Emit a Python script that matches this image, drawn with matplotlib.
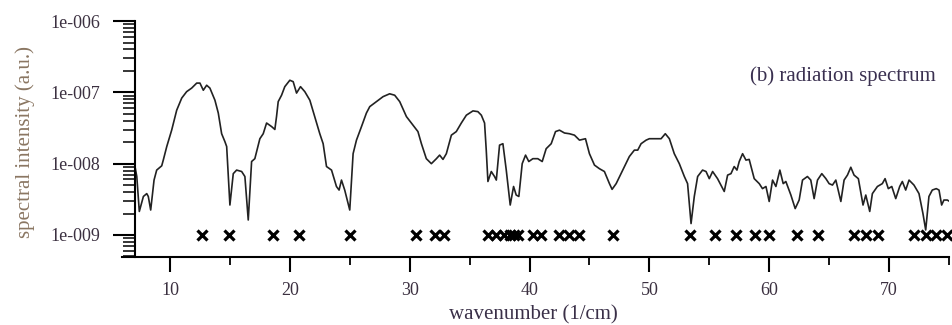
import matplotlib.pyplot as plt
import numpy as np
from matplotlib.ticker import LogLocator, NullFormatter, MultipleLocator

# spectrum: wavenumber (1/cm) and log10 of the intensity
wavenumber = [
    7.08, 7.23, 7.44, 7.78, 8.06, 8.19, 8.39, 8.67, 8.89, 9.31, 9.44, 9.73,
    10.14, 10.56, 10.98, 11.39, 11.81, 12.23, 12.50, 12.78, 13.06, 13.33, 13.75,
    14.03, 14.31, 14.58, 14.73, 15.00, 15.28, 15.56, 15.98, 16.25, 16.53, 16.81,
    17.08, 17.50, 17.78, 18.06, 18.48, 18.75, 18.89, 19.03, 19.31, 19.58, 20.00,
    20.28, 20.56, 20.89, 21.25, 21.67, 22.08, 22.50, 22.78, 23.06, 23.48, 23.89,
    24.11, 24.31, 24.58, 25.00, 25.28, 25.56, 25.98, 26.39, 26.67, 27.23, 27.78,
    28.33, 28.75, 29.17, 29.73, 30.28, 30.69, 30.98, 31.39, 31.81, 32.23, 32.50,
    32.78, 33.06, 33.48, 33.89, 34.31, 34.73, 35.28, 35.69, 35.98, 36.25, 36.39,
    36.53, 36.81, 37.08, 37.23, 37.50, 37.78, 38.06, 38.39, 38.67, 38.89, 39.11,
    39.39, 39.67, 39.94, 40.28, 40.69, 41.06, 41.39, 41.81, 42.17, 42.50, 42.92,
    43.33, 43.75, 44.17, 44.67, 45.00, 45.42, 45.83, 46.25, 46.67, 46.89, 47.23,
    47.78, 48.33, 48.75, 49.03, 49.31, 49.73, 50.00, 50.56, 50.98, 51.33, 51.67,
    52.08, 52.50, 52.92, 53.19, 53.48, 53.75, 54.03, 54.44, 54.73, 55.00, 55.28,
    55.69, 56.25, 56.53, 56.81, 57.08, 57.31, 57.50, 57.78, 58.06, 58.33, 58.75,
    59.17, 59.44, 59.73, 60.00, 60.28, 60.56, 60.89, 61.17, 61.39, 61.81, 62.17,
    62.50, 62.78, 63.19, 63.47, 63.75, 64.03, 64.39, 64.73, 65.00, 65.28, 65.56,
    65.98, 66.25, 66.53, 66.81, 67.08, 67.44, 67.83, 68.06, 68.39, 68.61, 69.03,
    69.44, 69.67, 69.94, 70.23, 70.56, 70.89, 71.11, 71.39, 71.67, 72.08, 72.50,
    72.83, 73.06, 73.33, 73.61, 73.94, 74.17, 74.39, 74.58, 74.86, 75.06,
]
log_intensity = [
    -8.04, -8.18, -8.67, -8.46, -8.42, -8.46, -8.65, -8.23, -8.09, -8.03, -7.95, -7.76,
    -7.53, -7.25, -7.08, -6.99, -6.94, -6.87, -6.87, -6.97, -6.90, -6.94, -7.11,
    -7.29, -7.58, -7.69, -7.76, -8.58, -8.14, -8.09, -8.11, -8.18, -8.79, -7.97,
    -7.93, -7.65, -7.58, -7.43, -7.48, -7.52, -7.34, -7.13, -7.04, -6.92, -6.83,
    -6.85, -7.01, -6.92, -6.99, -7.11, -7.34, -7.58, -7.72, -8.04, -8.09, -8.32,
    -8.37, -8.23, -8.37, -8.65, -7.86, -7.67, -7.48, -7.29, -7.20, -7.13, -7.06,
    -7.02, -7.04, -7.13, -7.34, -7.46, -7.55, -7.72, -7.93, -8.00, -7.93, -7.88,
    -7.94, -7.86, -7.60, -7.55, -7.43, -7.32, -7.26, -7.27, -7.32, -7.43, -7.81,
    -8.25, -8.11, -8.18, -8.23, -7.74, -7.72, -8.09, -8.58, -8.32, -8.44, -8.46,
    -8.00, -7.88, -7.97, -7.93, -7.93, -7.97, -7.79, -7.72, -7.55, -7.53, -7.57,
    -7.58, -7.60, -7.67, -7.65, -7.86, -8.02, -8.07, -8.11, -8.28, -8.36, -8.28,
    -8.09, -7.90, -7.81, -7.81, -7.72, -7.67, -7.65, -7.65, -7.65, -7.58, -7.65,
    -7.86, -8.00, -8.18, -8.28, -8.84, -8.46, -8.18, -8.09, -8.11, -8.21, -8.11,
    -8.21, -8.39, -8.16, -8.14, -8.04, -8.09, -7.97, -7.86, -7.95, -7.94, -8.21,
    -8.28, -8.35, -8.32, -8.53, -8.23, -8.32, -8.09, -8.28, -8.25, -8.44, -8.63,
    -8.51, -8.23, -8.18, -8.23, -8.49, -8.23, -8.14, -8.21, -8.28, -8.30, -8.23,
    -8.53, -8.23, -8.16, -8.05, -8.16, -8.21, -8.58, -8.44, -8.67, -8.42, -8.32,
    -8.28, -8.21, -8.35, -8.32, -8.49, -8.32, -8.25, -8.37, -8.23, -8.30, -8.42,
    -8.70, -8.93, -8.46, -8.37, -8.35, -8.37, -8.58, -8.51, -8.51, -8.53,
]

# wavenumbers marked with crosses along the 1e-9 line
mark_wavenumber = [
    12.64, 14.90, 18.56, 20.75, 25.00, 30.56, 32.10, 32.90,
    36.50, 37.20, 37.90, 38.40, 38.70, 39.00, 40.28, 40.97,
    42.50, 43.30, 44.10, 46.94, 53.40, 55.50, 57.20, 58.80,
    60.00, 62.30, 64.10, 67.08, 68.06, 69.10, 72.10, 73.10,
    73.95, 74.80,
]
mark_level = 1e-9

y_ticks = [1e-9, 1e-8, 1e-7, 1e-6]
y_tick_labels = ["1e-009", "1e-008", "1e-007", "1e-006"]
x_ticks = [10, 20, 30, 40, 50, 60, 70]

plt.rcParams['font.family'] = ['Liberation Serif', 'DejaVu Serif']

fig = plt.figure(figsize=(9.52, 3.25), dpi=100)
ax = fig.add_axes([0.1418, 0.2092, 0.855, 0.726])

intensity = np.power(10.0, log_intensity)
ax.plot(wavenumber, intensity, color='#222222', lw=1.2)
ax.plot(mark_wavenumber, [mark_level] * len(mark_wavenumber), ls='none',
        marker='x', ms=7, mew=2.3, color='black', clip_on=False)

ax.set_yscale('log')
ax.set_xlim(7.08, 75.0)
ax.set_ylim(10 ** -9.309, 1e-6)

for side in ['top', 'right']:
    ax.spines[side].set_visible(False)
for side in ['left', 'bottom']:
    ax.spines[side].set_linewidth(1.5)
ax.spines['bottom'].set_bounds(6.0, 75.0)

ax.set_xticks(x_ticks)
ax.xaxis.set_minor_locator(MultipleLocator(5))
ax.set_yticks(y_ticks)
ax.set_yticklabels(y_tick_labels)
ax.yaxis.set_minor_locator(LogLocator(base=10, subs=np.arange(2, 10)))
ax.yaxis.set_minor_formatter(NullFormatter())

tick_col = '#3b3040'
ax.tick_params(axis='x', which='major', direction='out', length=10.8, width=1.5,
               pad=7, labelsize=13, labelcolor=tick_col)
ax.tick_params(axis='x', which='minor', direction='out', length=5.8, width=1.3)
ax.tick_params(axis='y', which='major', direction='out', length=15.8, width=1.5,
               pad=9, labelsize=13, labelcolor=tick_col)
ax.tick_params(axis='y', which='minor', direction='out', length=8.6, width=1.1)

ax.set_xlabel("wavenumber (1/cm)", fontsize=15, color='#3a3048', va='center')
ax.xaxis.set_label_coords(0.49, -0.246)
ax.set_ylabel("spectral intensity (a.u.)", fontsize=15, color='#8a7662', va='center')
ax.yaxis.set_label_coords(-0.135, 0.487)

ax.text(0.87, 0.767, "(b) radiation spectrum", transform=ax.transAxes,
        ha='center', va='center', fontsize=15, color='#3a3050')

fig.savefig('out.png', dpi=100)
